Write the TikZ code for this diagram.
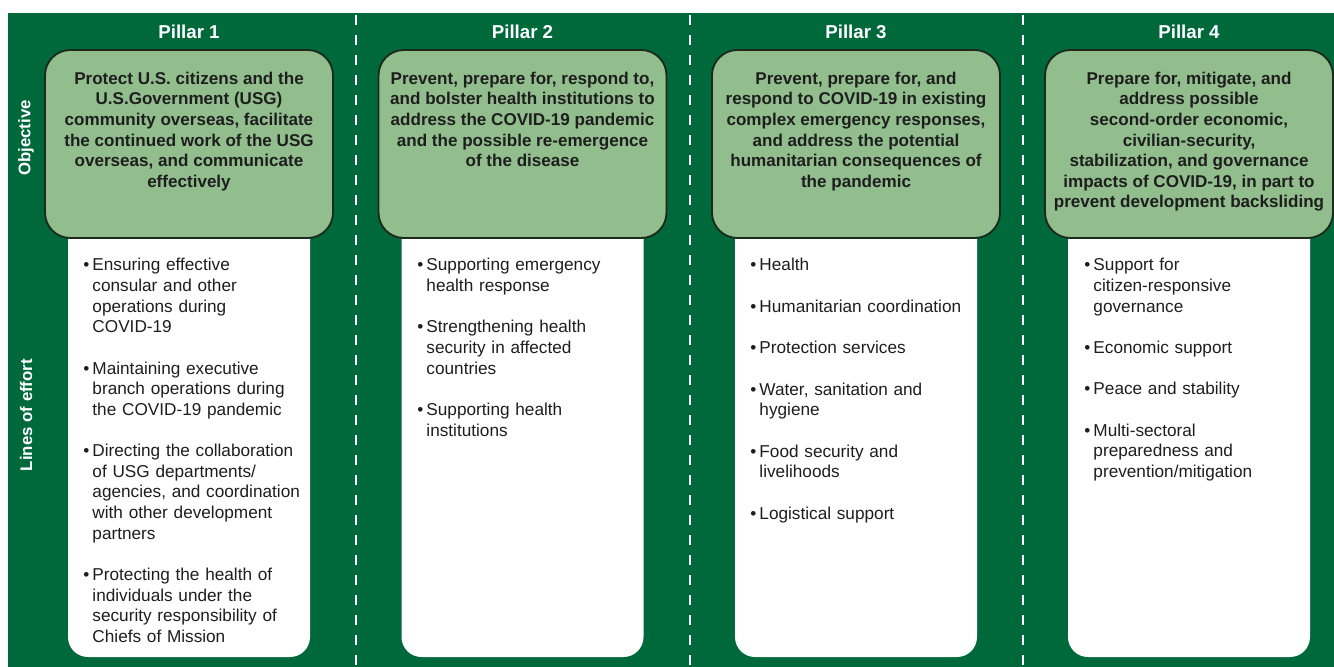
\documentclass[tikz,border=0pt]{standalone}
\usepackage{fontspec}
\setmainfont{Liberation Sans}
\usetikzlibrary{positioning}

\definecolor{pillargreen}{RGB}{0,105,60}
\definecolor{objfill}{RGB}{146,190,142}
\definecolor{objline}{RGB}{28,42,28}
\definecolor{bodytext}{RGB}{30,30,30}

\newcommand{\loeitem}[1]{\par\noindent\hangindent=6.9pt\hangafter=1\makebox[6.9pt][l]{\textbullet}#1\par\vspace{15.6pt}}

\tikzset{
  objbox/.style={draw=objline, line width=1.4pt, fill=objfill, rounded corners=19pt, minimum width=216pt, minimum height=141pt, inner sep=0pt},
  loebox/.style={fill=white, rounded corners=15pt, minimum width=181.5pt, minimum height=342.75pt, inner sep=0pt},
  objtext/.style={text=bodytext, font=\fontsize{12.8}{15.45}\selectfont\bfseries, align=center, inner sep=0pt},
  loetext/.style={text=bodytext, font=\fontsize{12.9}{15.45}\selectfont, text width=172pt, align=left, inner sep=0pt, anchor=north west},
  pillartitle/.style={text=white, font=\fontsize{14}{16}\selectfont\bfseries, inner sep=0pt},
  sidelabel/.style={text=white, font=\fontsize{12.6}{15}\selectfont\bfseries, rotate=90, inner sep=0pt},
  divider/.style={white, line width=1.5pt, dash pattern=on 7.5pt off 7.5pt}
}

\begin{document}
\begin{tikzpicture}[x=0.75pt, y=-0.75pt]
\useasboundingbox (0,0) rectangle (1334,667);
\fill[white] (0,0) rectangle (1334,667);
\fill[pillargreen] (8,13) rectangle (1334,667);

% dividers
\draw[divider] (356,15) -- (356,667);
\draw[divider] (690,15) -- (690,667);
\draw[divider] (1023,15) -- (1023,667);

% row labels
\node[sidelabel] (objlabel) at (26,138) {Objective};
\node[sidelabel] (loelabel) at (26,415) {Lines of effort};

% pillar 1
\node[pillartitle] (title1) at (189,32) {Pillar 1};
\node[loebox] (loe1) at (189,428.5) {};
\node[objbox] (obj1) at (189,144) {};
\node[objtext, below=17pt of obj1.north] (objtext1) {Protect U.S. citizens and the\\U.S.Government (USG)\\community overseas, facilitate\\the continued work of the USG\\overseas, and communicate\\effectively};
\node[loetext] (loetext1) at (83,250) {%
\loeitem{Ensuring effective\newline consular and other\newline operations during\newline COVID-19}
\loeitem{Maintaining executive\newline branch operations during\newline the COVID-19 pandemic}
\loeitem{Directing the collaboration\newline of USG departments/\newline agencies, and coordination\newline with other development\newline partners}
\loeitem{Protecting the health of\newline individuals under the\newline security responsibility of\newline Chiefs of Mission}};

% pillar 2
\node[pillartitle] (title2) at (522.5,32) {Pillar 2};
\node[loebox] (loe2) at (522.5,428.5) {};
\node[objbox] (obj2) at (522.5,144) {};
\node[objtext, below=17pt of obj2.north] (objtext2) {Prevent, prepare for, respond to,\\and bolster health institutions to\\address the COVID-19 pandemic\\and the possible re-emergence\\of the disease};
\node[loetext] (loetext2) at (417,250) {%
\loeitem{Supporting emergency\newline health response}
\loeitem{Strengthening health\newline security in affected\newline countries}
\loeitem{Supporting health\newline institutions}};

% pillar 3
\node[pillartitle] (title3) at (856,32) {Pillar 3};
\node[loebox] (loe3) at (856,428.5) {};
\node[objbox] (obj3) at (856,144) {};
\node[objtext, below=17pt of obj3.north] (objtext3) {Prevent, prepare for, and\\respond to COVID-19 in existing\\complex emergency responses,\\and address the potential\\humanitarian consequences of\\the pandemic};
\node[loetext] (loetext3) at (750,250) {%
\loeitem{Health}
\loeitem{Humanitarian coordination}
\loeitem{Protection services}
\loeitem{Water, sanitation and\newline hygiene}
\loeitem{Food security and\newline livelihoods}
\loeitem{Logistical support}};

% pillar 4
\node[pillartitle] (title4) at (1189,32) {Pillar 4};
\node[loebox] (loe4) at (1189,428.5) {};
\node[objbox] (obj4) at (1189,144) {};
\node[objtext, below=17pt of obj4.north] (objtext4) {Prepare for, mitigate, and\\address possible\\second-order economic,\\civilian-security,\\stabilization, and governance\\impacts of COVID-19, in part to\\prevent development backsliding};
\node[loetext] (loetext4) at (1084,250) {%
\loeitem{Support for\newline citizen-responsive\newline governance}
\loeitem{Economic support}
\loeitem{Peace and stability}
\loeitem{Multi-sectoral\newline preparedness and\newline prevention/mitigation}};

\end{tikzpicture}
\end{document}
